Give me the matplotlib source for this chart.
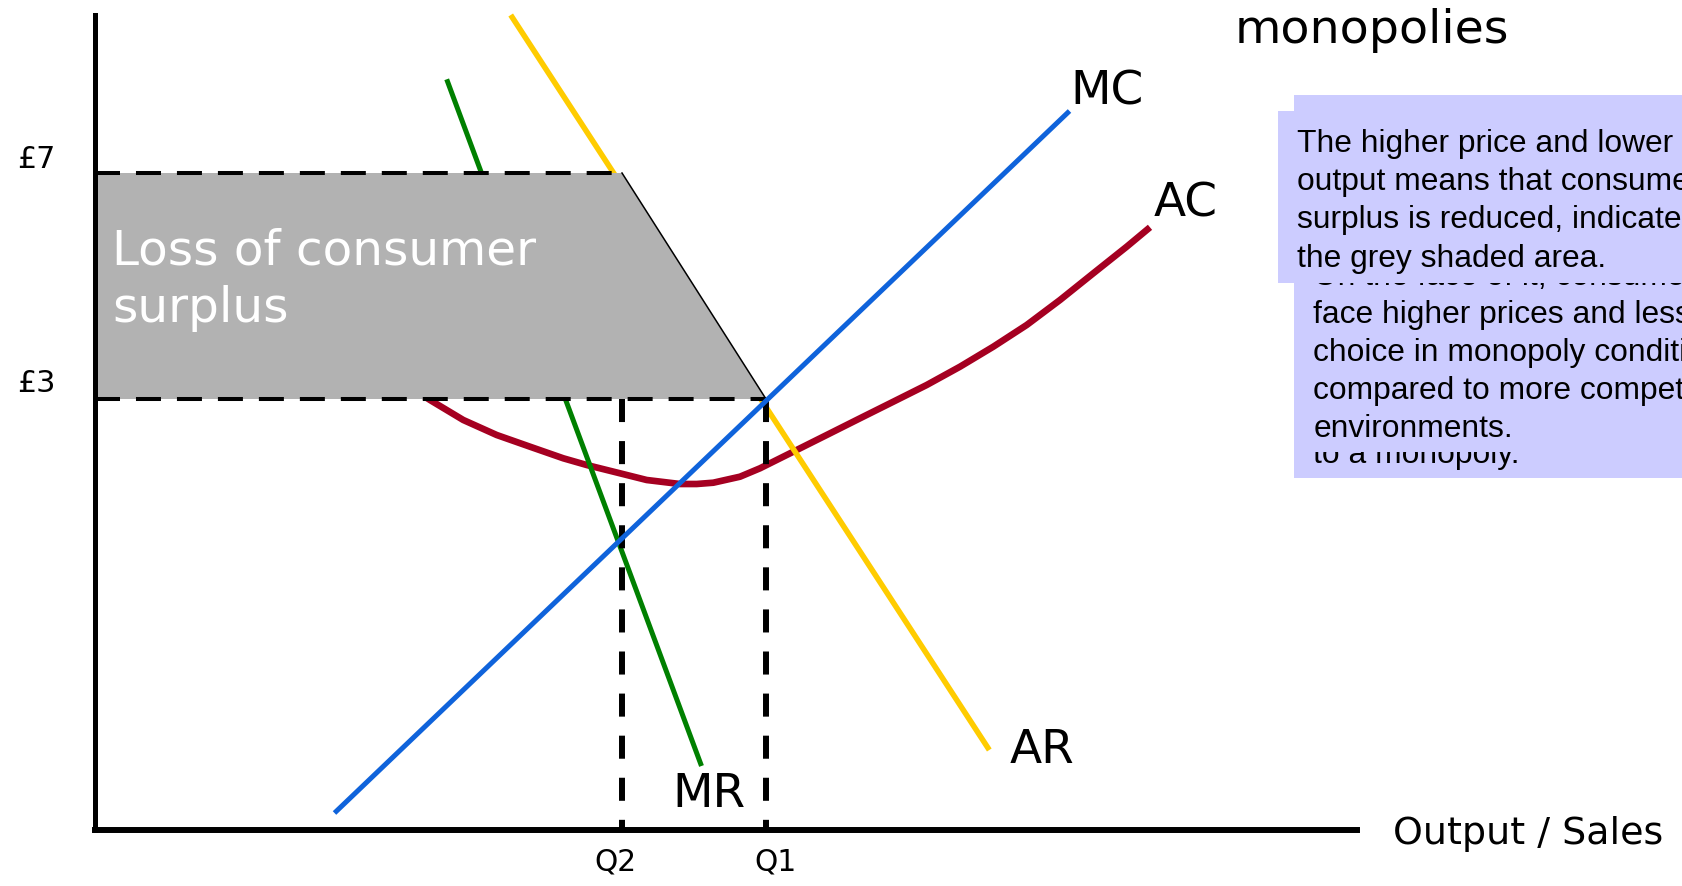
import matplotlib
matplotlib.use('Agg')
import matplotlib.pyplot as plt
from matplotlib.patches import Polygon, Rectangle

plt.rcParams['lines.scale_dashes'] = False

# Price levels and quantities (diagram units)
p_high, p_low = 65.7, 43.1
q2, q1 = 52.75, 67.15
price_labels = ['£7', '£3']
qty_labels = ['Q2', 'Q1']

# Straight cost / revenue lines: (x0, x1), (y0, y1)
mc_x, mc_y = [24.0, 97.5], [1.7, 71.9]
ar_x, ar_y = [41.62, 89.48], [81.5, 8.0]
mr_x, mr_y = [35.22, 60.7], [75.07, 6.4]

# Average cost curve
ac_x = [31.05, 33.55, 36.88, 40.22, 43.55, 46.88, 49.22, 52.55, 55.22, 58.55,
        60.22, 61.88, 64.55, 66.55, 69.88, 73.22, 76.55, 79.88, 83.22, 86.55,
        89.88, 93.22, 96.55, 99.88, 103.22, 105.55]
ac_y = [44.6, 43.0, 41.0, 39.5, 38.33, 37.17, 36.5, 35.67, 35.0, 34.6,
        34.6, 34.73, 35.33, 36.17, 37.83, 39.5, 41.17, 42.83, 44.5, 46.33,
        48.33, 50.5, 53.0, 55.67, 58.33, 60.27]

note_front = ['The higher price and lower',
              'output means that consumer',
              'surplus is reduced, indicated by',
              'the grey shaded area.']
note_back = ['On the face of it, consumers',
             'face higher prices and less',
             'choice in monopoly conditions',
             'compared to more competitive',
             'environments.']
note_tail = 'to a monopoly.'

fig = plt.figure(figsize=(16.82, 8.86), dpi=100)
ax = fig.add_axes([94.5 / 1682, 56 / 886, 1262.5 / 1682, 815 / 886])
ax.set_xlim(0, 126.25)
ax.set_ylim(0, 81.5)
ax.set_xticks([])
ax.set_yticks([])
for s in ['top', 'right']:
    ax.spines[s].set_visible(False)
ax.spines['left'].set_linewidth(3.6)
ax.spines['bottom'].set_linewidth(4.3)
for s in ['left', 'bottom']:
    ax.spines[s].set_zorder(10)

lbl = dict(family='DejaVu Sans', color='black', clip_on=False)

# Curves
ax.plot(ac_x, ac_y, color='#A50021', lw=4.8, solid_capstyle='butt',
        solid_joinstyle='round', zorder=2, clip_on=False)
ax.plot(mr_x, mr_y, color='#008000', lw=3.6, solid_capstyle='butt', zorder=3, clip_on=False)
ax.plot(ar_x, ar_y, color='#FFCC00', lw=4.0, solid_capstyle='butt', zorder=4, clip_on=False)

# Lost consumer surplus area
area = Polygon([(0, p_high), (q2, p_high), (q1, p_low), (0, p_low)],
               closed=True, facecolor='#B2B2B2', edgecolor='none', zorder=5)
ax.add_patch(area)
ax.plot([q2, q1], [p_high, p_low], color='black', lw=1.1, zorder=5.5)
ax.text(1.75, 56.53, 'Loss of consumer', fontsize=34.9, color='white',
        family='DejaVu Sans', va='baseline', zorder=6)
ax.text(1.75, 50.83, 'surplus', fontsize=34.9, color='white',
        family='DejaVu Sans', va='baseline', zorder=6)

# Dashed guide lines
ax.plot([0, q2], [p_high, p_high], color='black', lw=2.9, dashes=(18, 11.5), zorder=7)
ax.plot([0, q1], [p_low, p_low], color='black', lw=2.9, dashes=(18, 11.5), zorder=7)
ax.plot([q2, q2], [p_low, 0], color='black', lw=4.3, dashes=(16.6, 13.7), zorder=7)
ax.plot([q1, q1], [p_low, 0], color='black', lw=4.3, dashes=(16.6, 13.7), zorder=7)

ax.plot(mc_x, mc_y, color='#0F63DB', lw=3.6, solid_capstyle='butt', zorder=8, clip_on=False)

# Curve labels
ax.text(97.59, 72.6, 'MC', fontsize=33.8, va='baseline', **lbl)
ax.text(105.91, 61.4, 'AC', fontsize=33.8, va='baseline', **lbl)
ax.text(91.55, 6.73, 'AR', fontsize=33.8, va='baseline', **lbl)
ax.text(57.75, 2.33, 'MR', fontsize=33.8, va='baseline', **lbl)
ax.text(129.85, -1.43, 'Output / Sales', fontsize=27.4, va='baseline', **lbl)
ax.text(114.0, 78.73, 'monopolies', fontsize=34.2, va='baseline', **lbl)

# Axis values
ax.text(-5.78, 66.17, price_labels[0], fontsize=21.8, ha='center', va='baseline', **lbl)
ax.text(-5.78, 43.83, price_labels[1], fontsize=21.8, ha='center', va='baseline', **lbl)
ax.text(52.1, -4.07, qty_labels[0], fontsize=21.3, ha='center', va='baseline', **lbl)
ax.text(68.05, -4.07, qty_labels[1], fontsize=21.3, ha='center', va='baseline', **lbl)

# Note boxes, stacked back to front
box = dict(facecolor='#CCCCFF', edgecolor='none', clip_on=False)
note = dict(family='Liberation Sans', fontsize=22.9, color='black',
            va='baseline', clip_on=False)
ax.add_patch(Rectangle((119.95, 35.2), 40, 38.3, zorder=20, **box))
ax.text(121.88, 36.73, note_tail, zorder=21, **note)
ax.add_patch(Rectangle((119.95, 37.83), 40, 35.67, zorder=22, **box))
for i, line in enumerate(note_back):
    ax.text(121.88, 54.47 - i * 3.785, line, zorder=23, **note)
ax.add_patch(Rectangle((118.35, 54.67), 42, 17.23, zorder=24, **box))
for i, line in enumerate(note_front):
    ax.text(120.28, 67.83 - i * 3.833, line, zorder=25, **note)

fig.savefig('out.png', dpi=100)
